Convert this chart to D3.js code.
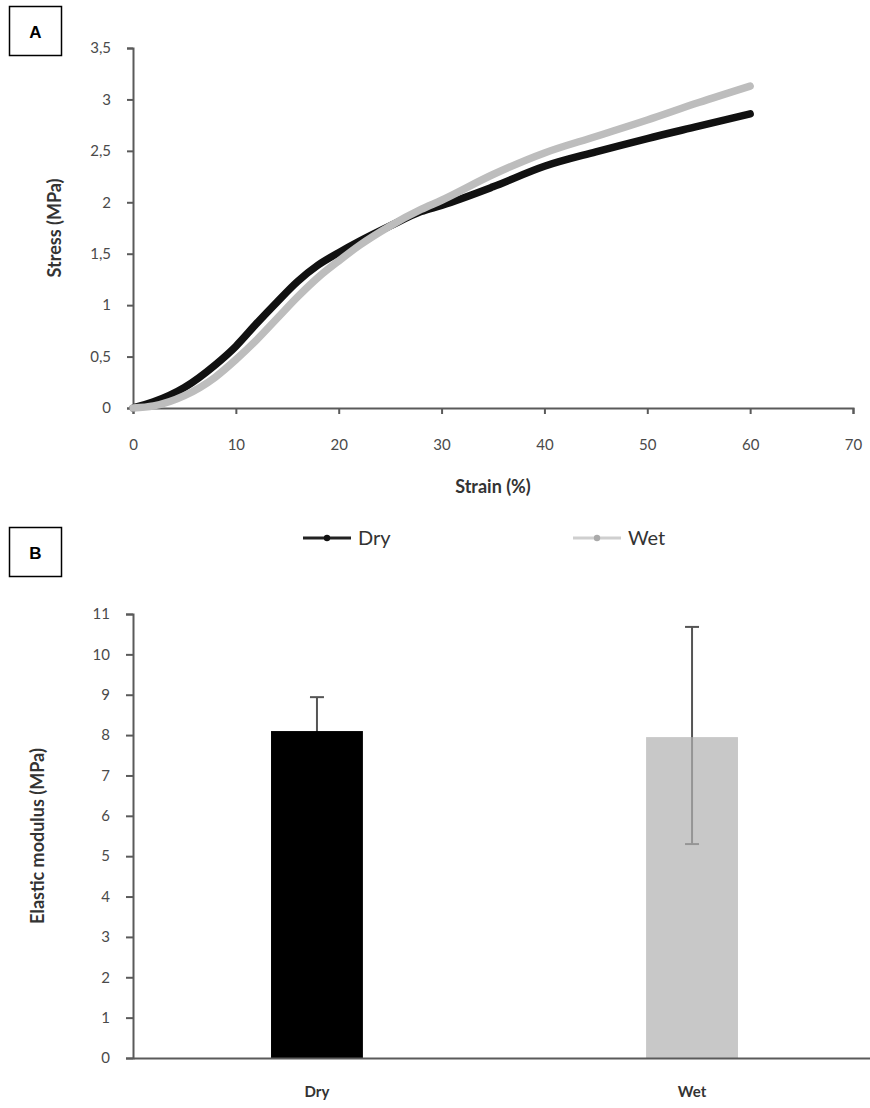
<!DOCTYPE html>
<html>
<head>
<meta charset="utf-8">
<script src="https://cdn.jsdelivr.net/npm/d3@7"></script>
<style>
  body { margin: 0; background: #fff; }
  text { font-family: Lato, "Open Sans", sans-serif; }
</style>
</head>
<body>
<div id="chart"></div>
<script>
// Panel A: stress-strain curves
const strain = [0, 2, 5, 8, 10, 12, 14, 16, 18, 20, 22, 25, 28, 30, 35, 40, 45, 50, 55, 60];
const dryStress = [0, 0.06, 0.2, 0.42, 0.6, 0.82, 1.03, 1.23, 1.39, 1.51, 1.62, 1.77, 1.91, 1.97, 2.15, 2.35, 2.49, 2.62, 2.74, 2.86];
const wetStress = [0, 0.02, 0.12, 0.3, 0.47, 0.66, 0.87, 1.08, 1.27, 1.43, 1.58, 1.77, 1.93, 2.02, 2.27, 2.48, 2.64, 2.8, 2.97, 3.13];
const strainTicks = [0, 10, 20, 30, 40, 50, 60, 70];
const stressTicks = [0, 0.5, 1, 1.5, 2, 2.5, 3, 3.5];

// Panel B: elastic modulus
const conditions = ["Dry", "Wet"];
const modulus = [8.1, 7.95];
const modulusLow = [7.3, 5.3];
const modulusHigh = [8.94, 10.68];
const modulusTicks = [0, 1, 2, 3, 4, 5, 6, 7, 8, 9, 10, 11];

const W = 870, H = 1108;
const axisColor = "#5a5a5a";
const svg = d3.select("#chart").append("svg")
    .attr("width", W)
    .attr("height", H);

const comma = d => String(d).replace(".", ",");

function styleAxis(g) {
  g.select(".domain").attr("stroke", axisColor).attr("stroke-width", 2);
  g.selectAll(".tick line").attr("stroke", axisColor).attr("stroke-width", 2);
  g.selectAll(".tick text")
    .attr("fill", "#4a4a4a")
    .style("font-size", "15px")
    .style("font-family", "Lato, sans-serif");
}

// panel letter boxes
function panelLabel(y, letter) {
  svg.append("rect")
    .attr("x", 9.5).attr("y", y)
    .attr("width", 52).attr("height", 49)
    .attr("fill", "#fff")
    .attr("stroke", "#000")
    .attr("stroke-width", 1.5);
  svg.append("text")
    .attr("x", 35.5).attr("y", y + 25)
    .attr("dy", "0.36em")
    .attr("text-anchor", "middle")
    .style("font-size", "17px")
    .style("font-weight", "bold")
    .style("font-family", "'Liberation Sans', Arial, sans-serif")
    .text(letter);
}
panelLabel(6.5, "A");
panelLabel(527.5, "B");

// ---- Panel A ----
const x = d3.scaleLinear().domain([0, 70]).range([133, 853]);
const y = d3.scaleLinear().domain([0, 3.5]).range([408, 48]);

svg.append("g")
    .attr("transform", "translate(0,408)")
    .call(d3.axisBottom(x).tickValues(strainTicks).tickSize(6).tickPadding(25))
    .call(styleAxis);

svg.append("g")
    .attr("transform", "translate(133,0)")
    .call(d3.axisLeft(y).tickValues(stressTicks).tickFormat(comma).tickSize(6).tickPadding(16))
    .call(styleAxis);

const line = d3.line()
    .x(d => x(d[0]))
    .y(d => y(d[1]))
    .curve(d3.curveMonotoneX);

const drySeries = strain.map((s, i) => [s, dryStress[i]]);
const wetSeries = strain.map((s, i) => [s, wetStress[i]]);

svg.append("path")
    .datum(drySeries)
    .attr("d", line)
    .attr("fill", "none")
    .attr("stroke", "#111")
    .attr("stroke-width", 7.5)
    .attr("stroke-linecap", "round");

svg.append("path")
    .datum(wetSeries)
    .attr("d", line)
    .attr("fill", "none")
    .attr("stroke", "#bdbdbd")
    .attr("stroke-width", 7.5)
    .attr("stroke-linecap", "round");

// axis titles A
svg.append("text")
    .attr("transform", "translate(55,228) rotate(-90)")
    .attr("text-anchor", "middle")
    .attr("dy", "0.35em")
    .attr("fill", "#333")
    .style("font-size", "18px")
    .style("font-weight", "bold")
    .text("Stress (MPa)");

svg.append("text")
    .attr("x", 493).attr("y", 487)
    .attr("text-anchor", "middle")
    .attr("dy", "0.35em")
    .attr("fill", "#333")
    .style("font-size", "18px")
    .style("font-weight", "bold")
    .text("Strain (%)");

// legend
const legend = [
  { name: "Dry", color: "#222", marker: "#111", x: 303 },
  { name: "Wet", color: "#cfcfcf", marker: "#aaa", x: 573 }
];
const lg = svg.selectAll(".legend").data(legend).enter().append("g")
    .attr("class", "legend")
    .attr("transform", d => "translate(" + d.x + ",538)");
lg.append("line")
    .attr("x1", 0).attr("x2", 48)
    .attr("stroke", d => d.color)
    .attr("stroke-width", 3);
lg.append("circle")
    .attr("cx", 24).attr("r", 3.2)
    .attr("fill", d => d.marker);
lg.append("text")
    .attr("x", 55)
    .attr("dy", "0.35em")
    .attr("fill", "#333")
    .style("font-size", "20px")
    .text(d => d.name);

// ---- Panel B ----
const xb = d3.scaleBand()
    .domain(conditions)
    .range([133, 876])
    .paddingInner(0.755)
    .paddingOuter(0.368);
const yb = d3.scaleLinear().domain([0, 11]).range([1058, 614]);

const bars = conditions.map((c, i) => ({
  name: c, value: modulus[i], lo: modulusLow[i], hi: modulusHigh[i]
}));
const barStyle = {
  Dry: { fill: "#000", opacity: 1 },
  Wet: { fill: "#b0b0b0", opacity: 0.7 }
};

// error bars first; the light bar is see-through so the whisker shows through it
const eb = svg.selectAll(".err")
    .data(bars)
    .enter().append("g")
    .attr("class", "err")
    .attr("transform", d => "translate(" + (xb(d.name) + xb.bandwidth() / 2) + ",0)");
eb.append("line")
    .attr("y1", d => yb(d.lo)).attr("y2", d => yb(d.hi))
    .attr("stroke", "#555").attr("stroke-width", 2);
eb.append("line")
    .attr("x1", -7).attr("x2", 7)
    .attr("y1", d => yb(d.hi)).attr("y2", d => yb(d.hi))
    .attr("stroke", "#555").attr("stroke-width", 2);
eb.append("line")
    .attr("x1", -7).attr("x2", 7)
    .attr("y1", d => yb(d.lo)).attr("y2", d => yb(d.lo))
    .attr("stroke", "#555").attr("stroke-width", 2);

svg.selectAll(".bar")
    .data(bars)
    .enter().append("rect")
    .attr("class", "bar")
    .attr("x", d => xb(d.name))
    .attr("width", xb.bandwidth())
    .attr("y", d => yb(d.value))
    .attr("height", d => yb(0) - yb(d.value))
    .attr("fill", d => barStyle[d.name].fill)
    .attr("fill-opacity", d => barStyle[d.name].opacity);

svg.append("g")
    .attr("transform", "translate(0,1058)")
    .call(d3.axisBottom(xb).tickSize(0).tickSizeOuter(0).tickPadding(28))
    .call(styleAxis)
    .call(g => g.selectAll(".tick text")
        .attr("fill", "#333")
        .style("font-size", "15px")
        .style("font-weight", "bold"));

svg.append("g")
    .attr("transform", "translate(133,0)")
    .call(d3.axisLeft(yb).tickValues(modulusTicks).tickSize(7).tickPadding(16))
    .call(styleAxis);

svg.append("text")
    .attr("transform", "translate(38,836) rotate(-90)")
    .attr("text-anchor", "middle")
    .attr("dy", "0.35em")
    .attr("fill", "#333")
    .style("font-size", "18px")
    .style("font-weight", "bold")
    .text("Elastic modulus (MPa)");
</script>
</body>
</html>
